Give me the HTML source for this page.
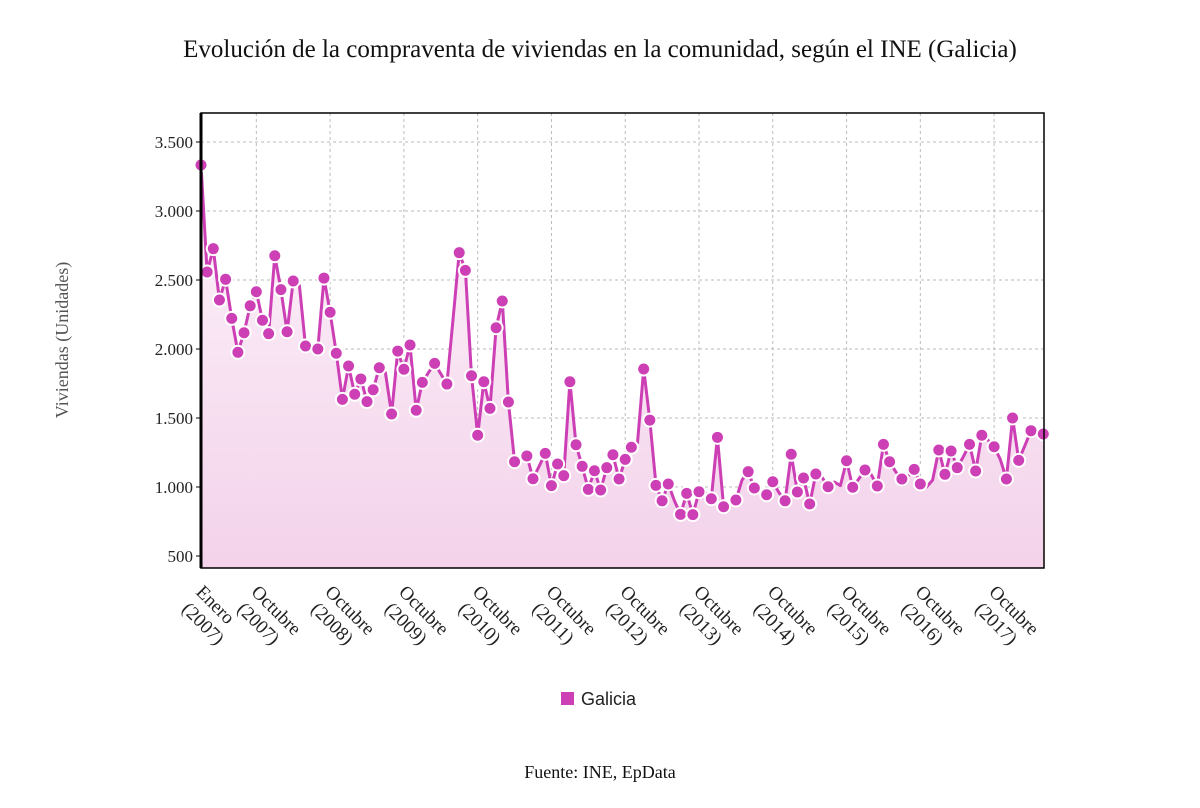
<!DOCTYPE html>
<html><head><meta charset="utf-8"><style>
body{margin:0;background:#fff;}
svg{display:block;}
</style></head><body>
<svg id="chart" width="1200" height="808" viewBox="0 0 1200 808">
<defs><linearGradient id="fillg" x1="0" y1="0" x2="0" y2="1">
<stop offset="0" stop-color="#fdf3fa"/><stop offset="1" stop-color="#f3d2ea"/></linearGradient></defs>
<text x="600" y="57" text-anchor="middle" font-family="Liberation Serif, serif" font-size="25" fill="#111">Evolución de la compraventa de viviendas en la comunidad, según el INE (Galicia)</text>
<text transform="translate(68,340) rotate(-90)" text-anchor="middle" font-family="Liberation Serif, serif" font-size="18" fill="#555">Viviendas (Unidades)</text>
<g id="grid"></g><g id="area"></g><g id="series"></g><g id="axes"></g>
<rect x="561" y="692" width="13" height="13" fill="#cc3fb5"/>
<text x="581" y="705" font-family="Liberation Sans, sans-serif" font-size="18" fill="#222">Galicia</text>
<text x="600" y="778" text-anchor="middle" font-family="Liberation Serif, serif" font-size="18" fill="#111">Fuente: INE, EpData</text>
</svg>
<script>
const values=[3333,2558,2727,2355,2505,2222,1976,2118,2313,2415,2208,2111,2676,2430,2125,2493,2460,2022,1995,2000,2514,2266,1969,1635,1877,1672,1783,1619,1705,1864,1830,1529,1985,1853,2029,1556,1758,1830,1896,1820,1746,2220,2698,2570,1806,1375,1763,1570,2154,2348,1616,1183,1200,1225,1060,1150,1244,1010,1167,1082,1763,1306,1150,983,1118,978,1140,1234,1058,1200,1288,1320,1855,1485,1012,900,1022,900,802,954,800,966,960,915,1360,857,880,906,1050,1111,993,970,944,1038,960,900,1237,964,1065,877,1094,1070,1002,1036,1010,1190,998,1060,1123,1090,1007,1309,1183,1110,1058,1080,1128,1022,1000,1050,1268,1092,1261,1140,1220,1309,1116,1375,1340,1292,1200,1058,1500,1193,1300,1408,1390,1384];
const noMarker=[16,18,30,37,39,41,52,55,71,77,82,86,88,91,94,101,103,104,107,109,113,115,118,119,124,128,130,134,136];
const yTicks=[500,1000,1500,2000,2500,3000,3500];
const yTickLabels=["500","1.000","1.500","2.000","2.500","3.000","3.500"];
const xTickIdx=[0,9,21,33,45,57,69,81,93,105,117,129];
const xTickLine1=["Enero","Octubre","Octubre","Octubre","Octubre","Octubre","Octubre","Octubre","Octubre","Octubre","Octubre","Octubre"];
const xTickLine2=["(2007)","(2007)","(2008)","(2009)","(2010)","(2011)","(2012)","(2013)","(2014)","(2015)","(2016)","(2017)"];
const L=201,R=1044,T=113,B=568;
const ns="http://www.w3.org/2000/svg";
function x(i){return L+i*(1043.3-L)/(values.length-1);}
function y(v){return 556-(v-500)*0.138;}
function mk(tag,attrs,parent){const e=document.createElementNS(ns,tag);for(const k in attrs)e.setAttribute(k,attrs[k]);parent.appendChild(e);return e;}
const grid=document.getElementById('grid'),area=document.getElementById('area'),series=document.getElementById('series'),axes=document.getElementById('axes');
yTicks.forEach((t,k)=>{
  const g=mk('line',{x1:L,x2:R,y1:y(t),y2:y(t),stroke:'#bbb','stroke-dasharray':'3,3'},grid);
  
  
  const tx=mk('text',{x:L-8,y:y(t)+6,'text-anchor':'end','font-family':'Liberation Serif, serif','font-size':'17',fill:'#222'},axes);
  tx.textContent=yTickLabels[k];
  
  
  mk('line',{x1:L-5,x2:L,y1:y(t),y2:y(t),stroke:'#000'},axes);
});
xTickIdx.forEach((i,k)=>{
  if(i>0){const g=mk('line',{x1:x(i),x2:x(i),y1:T,y2:B,stroke:'#bbb','stroke-dasharray':'3,3'},grid);
  
  }
  const tx=mk('text',{transform:'translate('+(x(i)-6)+','+(B+25)+') rotate(45)','font-family':'Liberation Serif, serif','font-size':'19',fill:'#222'},axes);
  const t1=mk('tspan',{x:0,dy:0},tx);t1.textContent=xTickLine1[k];
  const t2=mk('tspan',{x:2,dy:22},tx);t2.textContent=xTickLine2[k];
  
  
});
let d='';values.forEach((v,i)=>{d+=(i?'L':'M')+x(i).toFixed(1)+','+y(v).toFixed(1);});
const ar=mk('path',{d:d+'L'+x(values.length-1)+','+B+'L'+L+','+B+'Z',fill:'url(#fillg)'},area);


const ln=mk('path',{d:d,fill:'none',stroke:'#cc3fb5','stroke-width':'3','stroke-linejoin':'round'},series);


values.forEach((v,i)=>{
  if(noMarker.includes(i))return;
  const c=mk('circle',{cx:x(i),cy:y(v),r:6.5,fill:'#cc3fb5',stroke:'#fff','stroke-width':'2'},series);
  
  
});
const fr=mk('rect',{x:L,y:T,width:R-L,height:B-T,fill:'none',stroke:'#000','stroke-width':'1.5'},axes);


const ya=mk('line',{x1:L,x2:L,y1:T,y2:B,stroke:'#000','stroke-width':'3'},axes);


</script>
</body></html>
